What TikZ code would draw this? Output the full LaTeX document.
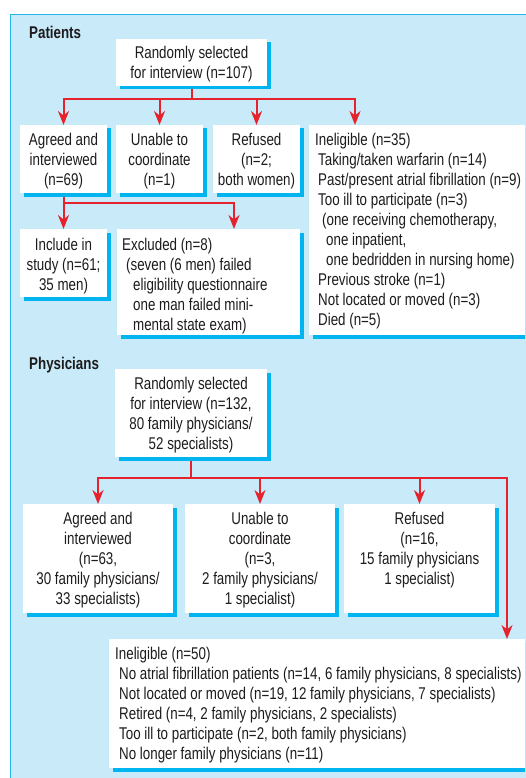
\documentclass[tikz,border=0pt]{standalone}
\usepackage{fontspec}
\setmainfont{Liberation Sans}[FakeStretch=0.785]
\usetikzlibrary{arrows.meta,shadows,calc}
\definecolor{panelfill}{RGB}{200,234,249}
\definecolor{panelline}{RGB}{38,182,234}
\definecolor{shadowblue}{RGB}{0,181,239}
\definecolor{linered}{RGB}{230,35,45}
\definecolor{ink}{RGB}{30,27,28}
\pgfdeclarelayer{panel}
\pgfdeclarelayer{wires}
\pgfsetlayers{panel,wires,main}
\newcommand\mainf{\fontsize{17}{20}\selectfont}
\newcommand\ind[1]{\hspace*{#1pt}}
\begin{document}
\begin{tikzpicture}[x=1pt,y=-1pt,
  box/.style={fill=white, anchor=north west, inner sep=0pt, outer sep=0pt,
    drop shadow={shadow xshift=3.5pt, shadow yshift=-3.5pt, fill=shadowblue, opacity=1}},
  ctext/.style={anchor=north, align=center, inner sep=0pt, font=\mainf, text=ink},
  ltext/.style={anchor=north west, align=left, inner sep=0pt, font=\mainf, text=ink},
  title/.style={anchor=base west, inner sep=0pt, font=\mainf\bfseries, text=ink},
  conn/.style={draw=linered, line width=2pt, line cap=rect},
  arr/.style={conn, -{Stealth[length=14pt, width=11pt, inset=4.5pt]}}]
\useasboundingbox (0,0) rectangle (525,778);
\clip (0,0) rectangle (525,778);
\begin{pgfonlayer}{panel}
\draw[panelline, fill=panelfill, line width=1.4pt] (10.5,14.5) rectangle (600,900);
\end{pgfonlayer}

% ---------- Patients ----------
\node[title] (tp) at (29,39) {Patients};
\node[box, minimum width=151pt, minimum height=47pt] (p0) at (116,39) {};
\node[ctext] (p0t) at ([yshift=-6.5pt]p0.north) {Randomly selected\\for interview (n=107)};

\node[box, minimum width=87pt, minimum height=68pt] (p1) at (20,125) {};
\node[ctext] (p1t) at ([yshift=-8pt]p1.north) {Agreed and\\interviewed\\(n=69)};
\node[box, minimum width=87pt, minimum height=68pt] (p2) at (116,125) {};
\node[ctext] (p2t) at ([yshift=-8pt]p2.north) {Unable to\\coordinate\\(n=1)};
\node[box, minimum width=87pt, minimum height=68pt] (p3) at (213,125) {};
\node[ctext] (p3t) at ([yshift=-8pt]p3.north) {Refused\\(n=2;\\both women)};
\node[box, minimum width=260pt, minimum height=210pt] (p4) at (309,125) {};
\node[ltext] (p4t) at ([xshift=6pt,yshift=-8pt]p4.north west) {Ineligible (n=35)\\
\ind{3}Taking/taken warfarin (n=14)\\
\ind{3}Past/present atrial fibrillation (n=9)\\
\ind{3}Too ill to participate (n=3)\\
\ind{7}(one receiving chemotherapy,\\
\ind{11}one inpatient,\\
\ind{11}one bedridden in nursing home)\\
\ind{3}Previous stroke (n=1)\\
\ind{3}Not located or moved (n=3)\\
\ind{3}Died (n=5)};

\node[box, minimum width=87pt, minimum height=68pt] (p5) at (20,229) {};
\node[ctext] (p5t) at ([yshift=-8.5pt]p5.north) {Include in\\study (n=61;\\35 men)};
\node[box, minimum width=183pt, minimum height=106pt] (p6) at (117,229) {};
\node[ltext] (p6t) at ([xshift=5pt,yshift=-8.5pt]p6.north west) {Excluded (n=8)\\
\ind{4}(seven (6 men) failed\\
\ind{11}eligibility questionnaire\\
\ind{11}one man failed mini-\\
\ind{11}mental state exam)};

% ---------- Physicians ----------
\node[title] (tq) at (29,369) {Physicians};
\node[box, minimum width=152pt, minimum height=88pt] (q0) at (115,369) {};
\node[ctext] (q0t) at ([yshift=-8pt]q0.north) {Randomly selected\\for interview (n=132,\\80 family physicians/\\52 specialists)};

\node[box, minimum width=150pt, minimum height=109pt] (q1) at (23,504) {};
\node[ctext] (q1t) at ([yshift=-8pt]q1.north) {Agreed and\\interviewed\\(n=63,\\30 family physicians/\\33 specialists)};
\node[box, minimum width=150pt, minimum height=109pt] (q2) at (185,504) {};
\node[ctext] (q2t) at ([yshift=-8pt]q2.north) {Unable to\\coordinate\\(n=3,\\2 family physicians/\\1 specialist)};
\node[box, minimum width=151pt, minimum height=109pt] (q3) at (344,504) {};
\node[ctext] (q3t) at ([yshift=-8pt]q3.north) {Refused\\(n=16,\\15 family physicians\\1 specialist)};
\node[box, minimum width=460pt, minimum height=129pt] (q4) at (109,639) {};
\node[ltext] (q4t) at ([xshift=6pt,yshift=-8pt]q4.north west) {Ineligible (n=50)\\
\ind{4}No atrial fibrillation patients (n=14, 6 family physicians, 8 specialists)\\
\ind{4}Not located or moved (n=19, 12 family physicians, 7 specialists)\\
\ind{4}Retired (n=4, 2 family physicians, 2 specialists)\\
\ind{4}Too ill to participate (n=2, both family physicians)\\
\ind{4}No longer family physicians (n=11)};

% ---------- connectors ----------
\coordinate (b1) at (0,99);   \coordinate (b1r) at (355,99);
\coordinate (b2) at (0,203);  \coordinate (b2r) at (234,203);
\coordinate (b3) at (0,478);  \coordinate (b3r) at (507,478);
\begin{pgfonlayer}{wires}
\draw[conn] (p0.south) -- (p0.south |- b1);
\draw[arr] (b1r) -- (p1.north |- b1) -- (p1.north);
\draw[arr] (p2.north |- b1) -- (p2.north);
\draw[arr] (p3.north |- b1) -- (p3.north);
\draw[arr] (p1.north |- b1) -- (b1r) -- (b1r |- p4.north);

\draw[conn] (p1.south) -- (p1.south |- b2);
\draw[arr] (b2r) -- (p5.north |- b2) -- (p5.north);
\draw[arr] (p5.north |- b2) -- (b2r) -- (b2r |- p6.north);

\draw[conn] (q0.south) -- (q0.south |- b3);
\draw[arr] (b3r) -- (q1.north |- b3) -- (q1.north);
\draw[arr] (q2.north |- b3) -- (q2.north);
\draw[arr] (q3.north |- b3) -- (q3.north);
\draw[arr] (q1.north |- b3) -- (b3r) -- (b3r |- q4.north);
\end{pgfonlayer}
\end{tikzpicture}
\end{document}
